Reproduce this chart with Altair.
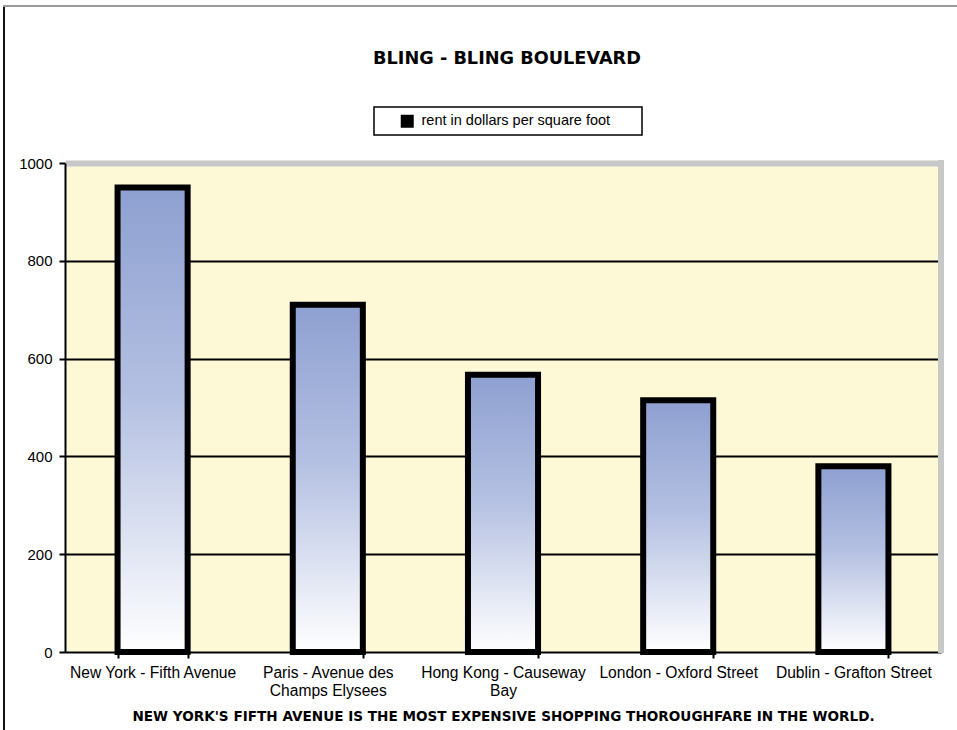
import json
import altair as alt
import pandas as pd

# ---- data ----
categories = [
    "New York - Fifth Avenue",
    "Paris - Avenue des Champs Elysees",
    "Hong Kong - Causeway Bay",
    "London - Oxford Street",
    "Dublin - Grafton Street",
]
rent = [950, 710, 567, 515, 380]
series_name = "rent in dollars per square foot"
label_lines = [
    ["New York - Fifth Avenue"],
    ["Paris - Avenue des", "Champs Elysees"],
    ["Hong Kong - Causeway", "Bay"],
    ["London - Oxford Street"],
    ["Dublin - Grafton Street"],
]
y_ticks = [0, 200, 400, 600, 800, 1000]
title_text = "Bling - Bling Boulevard"
caption_text = "New York's Fifth Avenue is the most expensive shopping thoroughfare in the world."

df = pd.DataFrame({"street": categories, "rent": rent, "series": [series_name] * len(categories)})

W, H = 876, 489
FONT = "Liberation Sans"

# label expression for multi-line axis labels
expr = ""
for cat, lines in zip(categories, label_lines):
    if len(lines) > 1:
        expr += f"datum.label == {json.dumps(cat)} ? {json.dumps(lines)} : "
expr += "datum.label"

gradient = alt.Gradient(
    gradient="linear",
    stops=[
        alt.GradientStop(color="#8ea0d1", offset=0),
        alt.GradientStop(color="#b4c0e2", offset=0.45),
        alt.GradientStop(color="#ffffff", offset=1),
    ],
    x1=0, x2=0, y1=0, y2=1,
)

x_enc = alt.X(
    "street:N",
    sort=categories,
    scale=alt.Scale(paddingInner=0.6, paddingOuter=0.3),
    axis=alt.Axis(
        title=caption_text.upper(),
        titleFont="DejaVu Sans",
        titleFontSize=13.6,
        titleFontWeight="bold",
        titleColor="black",
        titlePadding=11,
        labelExpr=expr,
        labelAngle=0,
        labelFont=FONT,
        labelFontSize=15.6,
        labelColor="black",
        labelLineHeight=18,
        labelPadding=7,
        labelLimit=400,
        tickBand="extent",
        tickSize=6,
        tickColor="black",
        tickWidth=2,
        domainColor="black",
        domainWidth=2,
        grid=False,
    ),
)

bars = alt.Chart(df).mark_bar(
    fill=gradient, stroke="black", strokeWidth=6, strokeJoin="miter"
).encode(
    x=x_enc,
    y=alt.Y(
        "rent:Q",
        scale=alt.Scale(domain=[0, 1000], nice=False),
        axis=alt.Axis(
            title=None,
            values=y_ticks,
            format="d",
            labelFont=FONT,
            labelFontSize=15,
            labelColor="black",
            labelPadding=7,
            tickSize=6,
            tickColor="black",
            tickWidth=2,
            domainColor="black",
            domainWidth=2,
            grid=True,
            gridColor={"condition": {"test": "datum.value == 1000", "value": "#c8c8c8"}, "value": "black"},
            gridWidth={"condition": {"test": "datum.value == 1000", "value": 6}, "value": 2},
            gridOpacity={"condition": {"test": "datum.value == 0", "value": 0}, "value": 1},
        ),
    ),
)

# invisible zero-size rect that carries the legend (black key)
legend_layer = alt.Chart(df).mark_rect(strokeWidth=0).encode(
    x=alt.value(0),
    x2=alt.value(0),
    y=alt.value(H),
    y2=alt.value(H),
    fill=alt.Fill(
        "series:N",
        scale=alt.Scale(range=["black"]),
        legend=alt.Legend(
            title=None,
            orient="none",
            legendX=309,
            legendY=-56,
            padding=7,
            strokeColor="black",
            symbolType="square",
            symbolSize=169,
            symbolStrokeWidth=0,
            symbolOffset=19,
            labelFont=FONT,
            labelFontSize=14.5,
            labelColor="black",
            labelOffset=7,
            labelLimit=400,
            labelExpr="datum.label + '      \u200b'",
        ),
    ),
)

one = pd.DataFrame({"k": [0]})
right_band = alt.Chart(one).mark_rule(color="#c8c8c8", strokeWidth=6).encode(
    x=alt.value(W), y=alt.value(-3), y2=alt.value(H + 1)
)
frame_left = alt.Chart(one).mark_rule(color="#111111", strokeWidth=2).encode(
    x=alt.value(-61), y=alt.value(-158), y2=alt.value(H + 80)
)
frame_top = alt.Chart(one).mark_rule(color="#9a9a9a", strokeWidth=2).encode(
    x=alt.value(-62), x2=alt.value(W + 20), y=alt.value(-157)
)

chart = alt.layer(bars, right_band, legend_layer, frame_left, frame_top).properties(
    width=W,
    height=H,
    title=alt.TitleParams(
        text=title_text.upper(),
        font="DejaVu Sans",
        fontSize=17.7,
        fontWeight="bold",
        color="black",
        anchor="middle",
        offset=-64,
        dx=4,
    ),
    autosize=alt.AutoSizeParams(type="none"),
    padding={"left": 65, "top": 163, "right": 16, "bottom": 78},
    background="white",
).configure_view(
    fill="#fdf9d6", stroke=None
).configure_legend(
    strokeWidth=1.5
)

chart.save("out.html", embed_options={"renderer": "svg", "actions": False})
